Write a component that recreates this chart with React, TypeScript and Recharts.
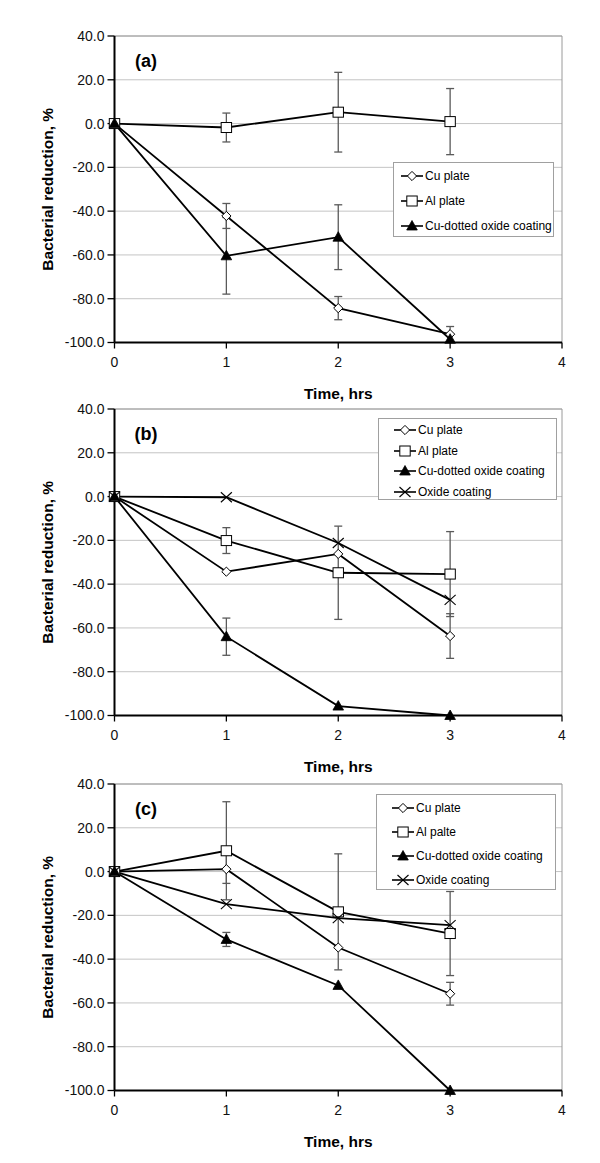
import React from 'react';
import { LineChart, Line, XAxis, YAxis, CartesianGrid, ErrorBar, Legend, ReferenceLine, Label } from 'recharts';

const FONT = '"Liberation Sans", Arial, Helvetica, sans-serif';

const times = [0, 1, 2, 3];
const xTicks = [0, 1, 2, 3, 4];
const yTicks = [-100, -80, -60, -40, -20, 0, 20, 40];

// Panel (a)
const aCu = [0, -42.2, -84.3, -96.2];
const aCuErr = [null, 5.7, 5.3, 3.5];
const aAl = [0, -1.8, 5.2, 0.9];
const aAlErr = [null, 6.6, 18.2, 15.1];
const aCuDot = [0, -60.4, -51.9, -98.5];
const aCuDotErr = [null, 17.5, 14.8, null];

// Panel (b)
const bCu = [0, -34.3, -26.2, -63.7];
const bCuErr = [null, null, null, 10.2];
const bAl = [0, -20.1, -34.8, -35.4];
const bAlErr = [null, 5.9, 21.3, 19.4];
const bCuDot = [0, -64.0, -95.7, -100];
const bCuDotErr = [null, 8.5, null, null];
const bOx = [0, -0.3, -21.2, -47.2];

// Panel (c)
const cCu = [0, 1.1, -34.7, -55.8];
const cCuErr = [null, 6.5, null, 5.2];
const cAl = [0, 9.5, -18.4, -28.3];
const cAlErr = [null, 22.4, 26.5, 19.2];
const cCuDot = [0, -31.0, -52.0, -100];
const cCuDotErr = [null, 3.2, null, null];
const cOx = [0, -14.9, -21.3, -24.5];

type Num = number | null;

function rows(cu: Num[], cuE: Num[], al: Num[], alE: Num[], cd: Num[], cdE: Num[], ox?: Num[]) {
  return times.map((t, i) => ({
    t,
    cu: cu[i], cuErr: cuE[i],
    al: al[i], alErr: alE[i],
    cd: cd[i], cdErr: cdE[i],
    ox: ox ? ox[i] : undefined,
  }));
}

const dataA = rows(aCu, aCuErr, aAl, aAlErr, aCuDot, aCuDotErr);
const dataB = rows(bCu, bCuErr, bAl, bAlErr, bCuDot, bCuDotErr, bOx);
const dataC = rows(cCu, cCuErr, cAl, cAlErr, cCuDot, cCuDotErr, cOx);

type Kind = 'diamond' | 'square' | 'triangle' | 'cross';

function marker(kind: Kind, cx: number, cy: number, key?: string) {
  if (kind === 'diamond') {
    const r = 4.6;
    return <polygon key={key} points={`${cx},${cy - r} ${cx + r},${cy} ${cx},${cy + r} ${cx - r},${cy}`} fill="#fff" stroke="#000" strokeWidth={1} />;
  }
  if (kind === 'square') {
    return <rect key={key} x={cx - 5.2} y={cy - 5} width={10.4} height={10} fill="#fff" stroke="#000" strokeWidth={1} />;
  }
  if (kind === 'triangle') {
    return <polygon key={key} points={`${cx},${cy - 5.5} ${cx + 5.3},${cy + 4} ${cx - 5.3},${cy + 4}`} fill="#000" stroke="#000" strokeWidth={0.8} />;
  }
  return (
    <g key={key}>
      <line x1={cx - 5.5} y1={cy - 5} x2={cx + 5.5} y2={cy + 5} stroke="#000" strokeWidth={1.1} />
      <line x1={cx - 5.5} y1={cy + 5} x2={cx + 5.5} y2={cy - 5} stroke="#000" strokeWidth={1.1} />
    </g>
  );
}

const dotOf = (kind: Kind) => (p: any) => {
  if (p.cx == null || p.cy == null || p.value == null) return <g key={`n-${kind}-${p.index}`} />;
  return marker(kind, p.cx, p.cy, `${kind}-${p.index}`);
};

const seriesOrder = ['cu', 'al', 'cd', 'ox'];
const kindByKey: Record<string, Kind> = { cu: 'diamond', al: 'square', cd: 'triangle', ox: 'cross' };

const makeLegend = (rowH: number, padLeft: number, padTop: number) => (props: any) => {
  const payload = [...(props.payload || [])].sort(
    (p: any, q: any) => seriesOrder.indexOf(String(p.dataKey)) - seriesOrder.indexOf(String(q.dataKey))
  );
  return (
    <div style={{ border: '1px solid #a0a0a0', background: '#fff', width: '100%', height: '100%', boxSizing: 'border-box', paddingTop: padTop, fontFamily: FONT, fontSize: 12, color: '#000' }}>
      {payload.map((e: any) => (
        <div key={String(e.dataKey)} style={{ height: rowH, display: 'flex', alignItems: 'center', paddingLeft: padLeft }}>
          <svg width={22} height={12} style={{ display: 'block' }}>
            <line x1={0} y1={6} x2={22} y2={6} stroke="#000" strokeWidth={1.6} />
            {marker(kindByKey[String(e.dataKey)], 11, 6)}
          </svg>
          <span style={{ marginLeft: 2, lineHeight: '12px' }}>{e.value}</span>
        </div>
      ))}
    </div>
  );
};

const YLabelContent = (props: any) => {
  const vb = props.viewBox || { x: 0, y: 0, width: 0, height: 0 };
  const x = vb.x + 47;
  const y = vb.y + vb.height / 2;
  return (
    <text x={x} y={y} transform={`rotate(-90 ${x} ${y})`} textAnchor="middle" dominantBaseline="central" fontFamily={FONT} fontWeight="bold" fontSize={15.5} fill="#000">
      Bacterial reduction, %
    </text>
  );
};

const XLabelContent = (props: any) => {
  const vb = props.viewBox || { x: 0, y: 0, width: 0, height: 0 };
  return (
    <text x={vb.x + vb.width / 2} y={vb.y + 56} textAnchor="middle" fontFamily={FONT} fontWeight="bold" fontSize={15.5} fill="#000">
      Time, hrs
    </text>
  );
};

type PanelProps = {
  top: number;
  letter: string;
  data: any[];
  names: string[];
  hasOx: boolean;
  legendBox: { left: number; top: number; width: number; height: number };
  rowH: number;
  padLeft: number;
  padTop: number;
  plotTop: number;
};

function Panel({ top, letter, data, names, hasOx, legendBox, rowH, padLeft, padTop, plotTop }: PanelProps) {
  const W = 600;
  const H = 420;
  const plotH = 306.5;
  const xAxisH = H - plotTop - plotH;
  const errStyle = { stroke: '#5a5a5a', strokeWidth: 1.3 };
  return (
    <div style={{ position: 'absolute', left: 0, top, width: W, height: H }}>
      <LineChart width={W} height={H} data={data} margin={{ top: plotTop, right: 38, left: 0, bottom: 0 }}>
        <CartesianGrid vertical={false} stroke="#c4c4c4" strokeWidth={1} />
        <ReferenceLine y={40} stroke="#9a9a9a" strokeWidth={1} />
        <ReferenceLine x={4} stroke="#9a9a9a" strokeWidth={1} />
        <XAxis
          type="number"
          dataKey="t"
          domain={[0, 4]}
          ticks={xTicks}
          height={xAxisH}
          axisLine={{ stroke: '#000', strokeWidth: 2 }}
          tickLine={{ stroke: '#000', strokeWidth: 1.3 }}
          tickSize={6}
          tickMargin={9}
          tick={{ fontSize: 14, fill: '#111', fontFamily: FONT }}
        >
          <Label content={XLabelContent} />
        </XAxis>
        <YAxis
          type="number"
          domain={[-100, 40]}
          ticks={yTicks}
          width={114.5}
          interval={0}
          tickFormatter={(v: number) => v.toFixed(1)}
          axisLine={{ stroke: '#000', strokeWidth: 2 }}
          tickLine={{ stroke: '#000', strokeWidth: 1.3 }}
          tickSize={7}
          tickMargin={3}
          tick={{ fontSize: 14, fill: '#111', fontFamily: FONT }}
        >
          <Label content={YLabelContent} />
        </YAxis>
        <Legend
          layout="vertical"
          align="center"
          verticalAlign="middle"
          content={makeLegend(rowH, padLeft, padTop)}
          wrapperStyle={{ position: 'absolute', left: legendBox.left, top: legendBox.top, width: legendBox.width, height: legendBox.height, bottom: 'auto', right: 'auto' }}
        />
        <Line name={names[0]} dataKey="cu" type="linear" stroke="#000" strokeWidth={1.8} dot={dotOf('diamond')} activeDot={false} isAnimationActive={false}>
          <ErrorBar dataKey="cuErr" direction="y" width={4} {...errStyle} />
        </Line>
        <Line name={names[1]} dataKey="al" type="linear" stroke="#000" strokeWidth={1.8} dot={dotOf('square')} activeDot={false} isAnimationActive={false}>
          <ErrorBar dataKey="alErr" direction="y" width={4} {...errStyle} />
        </Line>
        <Line name={names[2]} dataKey="cd" type="linear" stroke="#000" strokeWidth={1.8} dot={dotOf('triangle')} activeDot={false} isAnimationActive={false}>
          <ErrorBar dataKey="cdErr" direction="y" width={4} {...errStyle} />
        </Line>
        {hasOx ? (
          <Line name={names[3]} dataKey="ox" type="linear" stroke="#000" strokeWidth={1.8} dot={dotOf('cross')} activeDot={false} isAnimationActive={false} />
        ) : null}
      </LineChart>
      <div style={{ position: 'absolute', left: 146, top: 60.5, transform: 'translate(-50%, -50%)', fontFamily: FONT, fontWeight: 'bold', fontSize: 18, color: '#000', lineHeight: 1 }}>
        {letter}
      </div>
    </div>
  );
}

const namesA = ['Cu plate', 'Al plate', 'Cu-dotted oxide coating'];
const namesB = ['Cu plate', 'Al plate', 'Cu-dotted oxide coating', 'Oxide coating'];
const namesC = ['Cu plate', 'Al palte', 'Cu-dotted oxide coating', 'Oxide coating'];

export default function App() {
  return (
    <div style={{ position: 'absolute', left: 0, top: 0, width: 600, height: 1163, background: '#fff', overflow: 'hidden' }}>
      <Panel top={0} letter="(a)" data={dataA} names={namesA} hasOx={false}
        legendBox={{ left: 393, top: 162.3, width: 161, height: 75 }} rowH={25} padLeft={7} padTop={0} plotTop={36} />
      <Panel top={373.3} letter="(b)" data={dataB} names={namesB} hasOx={true}
        legendBox={{ left: 378, top: 45, width: 179, height: 82 }} rowH={20.5} padLeft={15} padTop={0.5} plotTop={36} />
      <Panel top={748} letter="(c)" data={dataC} names={namesC} hasOx={true}
        legendBox={{ left: 376, top: 46.3, width: 180, height: 96 }} rowH={24} padLeft={15} padTop={0.5} plotTop={36} />
    </div>
  );
}
